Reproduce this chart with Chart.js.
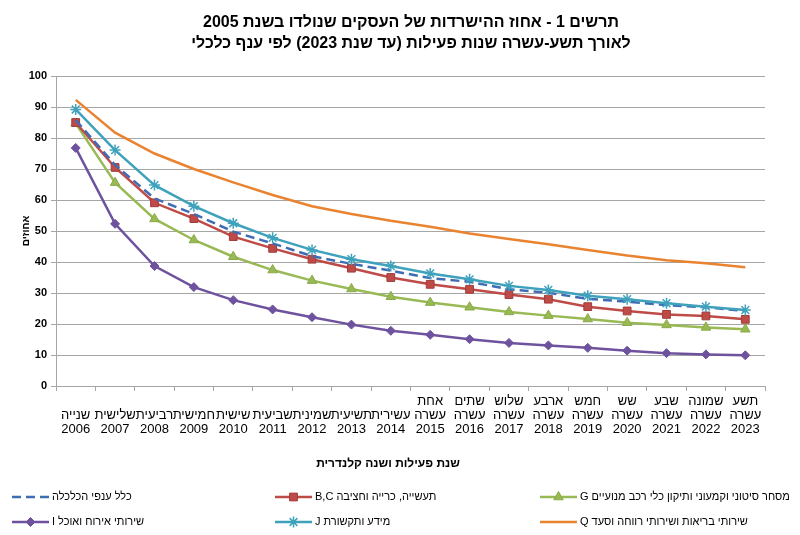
<!DOCTYPE html>
<html>
<head>
<meta charset="utf-8">
<script src="https://cdn.jsdelivr.net/npm/chart.js@4/dist/chart.umd.min.js"></script>
<style>
  html, body { margin: 0; padding: 0; background: #fff; }
  #wrap { width: 800px; height: 535px; }
</style>
</head>
<body>
<div id="wrap"><canvas id="survivalChart" width="800" height="535"></canvas></div>
<script>
// years of activity (ordinal word, "עשרה" for 11+, calendar year)
const years = ['2006','2007','2008','2009','2010','2011','2012','2013','2014','2015','2016','2017','2018','2019','2020','2021','2022','2023'];
const ordinals = ['שנייה','שלישית','רביעית','חמישית','שישית','שביעית','שמינית','תשיעית','עשירית','אחת','שתים','שלוש','ארבע','חמש','שש','שבע','שמונה','תשע'];
const yTicks = [0,10,20,30,40,50,60,70,80,90,100];

const allBranches = [85.8,71.3,60.5,55.5,49.8,46.0,41.9,39.4,37.2,34.8,33.6,31.2,30.1,28.1,27.2,26.1,25.4,24.2];
const industryBC  = [85.0,70.5,59.1,54.0,48.2,44.4,40.9,38.0,35.0,32.8,31.2,29.5,28.0,25.6,24.2,23.1,22.6,21.5];
const tradeG      = [84.7,65.6,53.9,47.1,41.7,37.4,34.0,31.3,28.8,26.9,25.4,23.9,22.7,21.6,20.4,19.7,18.9,18.3];
const foodI       = [76.8,52.3,38.7,31.9,27.7,24.7,22.2,19.8,17.8,16.5,15.1,13.9,13.1,12.3,11.4,10.6,10.2,9.9];
const infoJ       = [89.2,76.1,64.8,58.0,52.5,47.8,43.9,40.9,38.7,36.3,34.4,32.3,31.0,29.1,28.0,26.7,25.6,24.5];
const healthQ     = [92.3,81.7,75.0,70.0,65.7,61.6,58.0,55.5,53.3,51.4,49.2,47.4,45.7,43.9,42.1,40.6,39.6,38.3];

const titleLines = ['תרשים 1 - אחוז ההישרדות של העסקים שנולדו בשנת 2005', 'לאורך תשע-עשרה שנות פעילות (עד שנת 2023) לפי ענף כלכלי'];

const labels = years.map((y, i) => i < 9 ? ['', ordinals[i], y] : [ordinals[i], 'עשרה', y]);

const FONT = 'Arial, "Liberation Sans", sans-serif';
const gridCol = '#A6A6A6';

const datasets = [
  { label: 'כלל ענפי הכלכלה', data: allBranches, borderColor: '#3F6DB3', backgroundColor: '#3F6DB3', borderWidth: 2.5, borderDash: [9,5], pointRadius: 0, order: 2 },
  { label: 'תעשייה, כרייה וחציבה B,C', data: industryBC, borderColor: '#BE4B48', backgroundColor: '#BE4B48', borderWidth: 2.5, pointStyle: 'rect', pointRadius: 5.5, pointBorderColor: '#A23C39', pointBorderWidth: 1, order: 3 },
  { label: 'מסחר סיטוני וקמעוני ותיקון כלי רכב מנועיים G', data: tradeG, borderColor: '#98B954', backgroundColor: '#98B954', borderWidth: 2.5, pointStyle: 'triangle', pointRadius: 5.5, pointBorderColor: '#8AAA48', pointBorderWidth: 1, order: 4 },
  { label: 'שירותי אירוח ואוכל I', data: foodI, borderColor: '#6E529E', backgroundColor: '#6E529E', borderWidth: 2.5, pointStyle: 'rectRot', pointRadius: 4.5, pointBorderColor: '#6E529E', pointBorderWidth: 1, order: 5 },
  { label: 'מידע ותקשורת J', data: infoJ, borderColor: '#3FA2BD', backgroundColor: '#3FA2BD', borderWidth: 2.5, pointStyle: 'star', pointRadius: 5.5, pointBorderColor: '#3FA2BD', pointBorderWidth: 1.5, order: 1 },
  { label: 'שירותי בריאות ושירותי רווחה וסעד Q', data: healthQ, borderColor: '#E98330', backgroundColor: '#E98330', borderWidth: 2.5, pointRadius: 0, order: 6 }
];

// legend grid (3 columns x 2 rows), titles - drawn like the Excel original
const legendOrder = [[0,1,2],[3,4,5]];
const colX = [12, 275, 540];
const rowY = [497, 522];

const textStuff = {
  id: 'textStuff',
  afterDraw(chart) {
    const ctx = chart.ctx;
    ctx.save();
    ctx.fillStyle = '#000';
    ctx.direction = 'rtl';
    ctx.textAlign = 'center';
    ctx.textBaseline = 'middle';

    ctx.font = 'bold 16px ' + FONT;
    ctx.fillText(titleLines[0], 411, 23);
    ctx.fillText(titleLines[1], 411, 44);

    ctx.font = 'bold 12px ' + FONT;
    ctx.fillText('שנת פעילות ושנה קלנדרית', 388, 464);

    legendOrder.forEach((row, r) => {
      row.forEach((di, c) => {
        const ds = chart.data.datasets[di];
        const x = colX[c], y = rowY[r];
        ctx.save();
        ctx.strokeStyle = ds.borderColor;
        ctx.lineWidth = 2.5;
        ctx.setLineDash(ds.borderDash || []);
        ctx.beginPath();
        ctx.moveTo(x, y);
        ctx.lineTo(x + 37, y);
        ctx.stroke();
        ctx.restore();
        if (ds.pointRadius > 0) {
          ctx.save();
          ctx.fillStyle = ds.backgroundColor;
          ctx.strokeStyle = ds.pointBorderColor;
          ctx.lineWidth = ds.pointBorderWidth;
          Chart.helpers.drawPoint(ctx, {
            pointStyle: ds.pointStyle, radius: ds.pointRadius, borderWidth: ds.pointBorderWidth, rotation: 0
          }, x + 18.5, y);
          ctx.restore();
        }
        ctx.fillStyle = '#000';
        ctx.font = '11px ' + FONT;
        ctx.textAlign = 'left';
        ctx.direction = 'rtl';
        ctx.fillText(ds.label, x + 40, y);
      });
    });
    ctx.restore();
  }
};

const ctx = document.getElementById('survivalChart').getContext('2d');
new Chart(ctx, {
  type: 'line',
  data: { labels: labels, datasets: datasets },
  plugins: [textStuff],
  options: {
    responsive: false,
    animation: false,
    layout: { padding: { left: 20, right: 35, top: 76, bottom: 64 } },
    elements: { line: { tension: 0 } },
    plugins: {
      legend: { display: false },
      tooltip: { enabled: false },
      title: { display: false }
    },
    scales: {
      x: {
        offset: true,
        grid: { offset: true, drawOnChartArea: false, drawTicks: true, tickLength: 5, color: gridCol },
        border: { color: gridCol, width: 1 },
        ticks: { autoSkip: false, maxRotation: 0, minRotation: 0, padding: 3, color: '#000', font: { family: FONT, size: 13, lineHeight: 1.08 } },
        afterFit(scale) { scale.height = 85; }
      },
      y: {
        min: 0, max: 100,
        afterBuildTicks(scale) { scale.ticks = yTicks.map(v => ({ value: v })); },
        grid: { color: gridCol, tickLength: 5, drawTicks: true },
        border: { color: gridCol, width: 1 },
        ticks: { padding: 4, color: '#000', font: { family: FONT, size: 11, weight: 'bold' } },
        title: { display: true, text: 'אחוזים', color: '#000', font: { family: FONT, size: 10, weight: 'bold' }, padding: 0 },
        afterFit(scale) { scale.width = 36; }
      }
    }
  }
});
</script>
</body>
</html>
